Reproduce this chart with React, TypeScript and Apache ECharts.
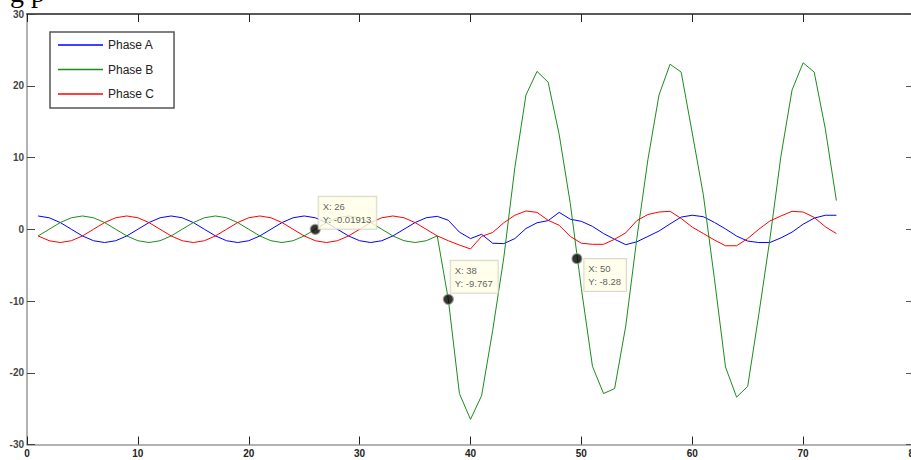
import React, { useEffect, useRef } from "react";
import * as echarts from "echarts";

// ---- data ----
const seriesNames = ["Phase A", "Phase B", "Phase C"];

// samples at x = 1 .. 73
const phaseA = [
  1.85, 1.6, 0.93, 0.0, -0.93, -1.6, -1.85, -1.6, -0.93, 0.0, 0.93, 1.6,
  1.85, 1.6, 0.93, 0.0, -0.93, -1.6, -1.85, -1.6, -0.93, 0.0, 0.93, 1.6,
  1.85, 1.6, 0.93, 0.0, -0.93, -1.6, -1.85, -1.6, -0.93, 0.0, 0.93, 1.6,
  1.8, 1.25, -0.4, -1.3, -0.7, -1.95, -2.0, -1.3, 0.1, 0.9, 1.2, 2.35,
  1.4, 1.1, 0.4, -0.6, -1.4, -2.15, -1.75, -1.0, -0.25, 0.75, 1.7, 1.95,
  1.75, 0.95, 0.05, -0.95, -1.65, -1.85, -1.85, -1.2, -0.4, 0.7, 1.55, 1.95,
  1.95,
];

const phaseB = [
  -0.93, 0.0, 0.93, 1.6, 1.85, 1.6, 0.93, 0.0, -0.93, -1.6, -1.85, -1.6,
  -0.93, 0.0, 0.93, 1.6, 1.85, 1.6, 0.93, 0.0, -0.93, -1.6, -1.85, -1.6,
  -0.93, -0.01913, 0.93, 1.6, 1.85, 1.6, 0.93, 0.0, -0.93, -1.6, -1.85, -1.6,
  -0.93, -9.767, -22.9, -26.5, -23.2, -14.1, -4.0, 8.6, 18.7, 22.0, 20.5, 13.2,
  3.6, -8.28, -19.1, -22.9, -22.2, -13.5, -1.3, 9.7, 18.7, 23.0, 21.9, 13.4,
  4.8, -6.9, -19.2, -23.4, -21.9, -11.9, -1.4, 10.2, 19.4, 23.2, 21.9, 14.0,
  4.0,
];

const phaseC = [
  -0.93, -1.6, -1.85, -1.6, -0.93, 0.0, 0.93, 1.6, 1.85, 1.6, 0.93, 0.0,
  -0.93, -1.6, -1.85, -1.6, -0.93, 0.0, 0.93, 1.6, 1.85, 1.6, 0.93, 0.0,
  -0.93, -1.6, -1.85, -1.6, -0.93, 0.0, 0.93, 1.6, 1.85, 1.6, 0.93, 0.0,
  -0.93, -1.6, -2.2, -2.75, -1.0, -0.45, 0.9, 1.95, 2.55, 2.35, 1.25, 0.55,
  -1.0, -1.95, -2.1, -2.1, -1.4, -0.5, 1.2, 2.05, 2.4, 2.5, 1.5, 0.3,
  -0.6, -1.5, -2.3, -2.3, -1.3, 0.0, 1.15, 1.85, 2.5, 2.4, 1.65, 0.35,
  -0.6,
];

// data tips (cursor positions as drawn, and their texts)
const tipX = [26, 38, 49.6];
const tipY = [-0.01913, -9.767, -4.1];
const tipText = ["X: 26\nY: -0.01913", "X: 38\nY: -9.767", "X: 50\nY: -8.28"];

// axes
const xMin = 0;
const xMax = 80;
const xStep = 10;
const yMin = -30;
const yMax = 30;
const yStep = 10;

const colors = ["#0000ff", "#1c8c1c", "#ff0000"];
const FONT = "Liberation Sans, Arial, sans-serif";

export default function App() {
  const ref = useRef<HTMLDivElement>(null);

  useEffect(() => {
    if (!ref.current) return;
    const chart = echarts.init(ref.current, undefined, { renderer: "svg" });

    const toXY = (arr: number[]) => arr.map((v, i) => [i + 1, v]);
    const tipLabelPos = [
      [9, -27],
      [8, -33],
      [13, 6],
    ];

    const axisCommon = {
      type: "value" as const,
      splitLine: { show: false },
      axisTick: { inside: true, length: 8, lineStyle: { color: "#222", width: 1 } },
    };

    chart.setOption({
      animation: false,
      backgroundColor: "#ffffff",
      graphic: [
        {
          type: "text",
          left: 10,
          top: -22,
          style: { text: "g p", font: "28px Liberation Serif, serif", fill: "#000" },
        },
      ],
      legend: {
        orient: "vertical",
        left: 50,
        top: 32,
        data: seriesNames,
        icon: "rect",
        itemWidth: 45,
        itemHeight: 1.3,
        itemGap: 11.5,
        padding: [6.5, 20, 7.5, 8],
        borderColor: "#555",
        borderWidth: 1.5,
        backgroundColor: "#ffffff",
        textStyle: { fontSize: 12, lineHeight: 13, color: "#222", fontFamily: FONT },
      },
      grid: { left: 27, top: 14, width: 887, height: 430.5, containLabel: false, outerBoundsMode: "none" },
      xAxis: [
        {
          ...axisCommon,
          min: xMin,
          max: xMax,
          interval: xStep,
          position: "bottom",
          axisLine: { onZero: false, lineStyle: { color: "#999", width: 1.5 } },
          axisLabel: { fontSize: 10, color: "#222", margin: 4, fontFamily: FONT, fontWeight: "bold" },
        },
        {
          ...axisCommon,
          min: xMin,
          max: xMax,
          interval: xStep,
          position: "top",
          axisLine: { onZero: false, lineStyle: { color: "#222", width: 1.5 } },
          axisLabel: { show: false },
        },
      ],
      yAxis: [
        {
          ...axisCommon,
          min: yMin,
          max: yMax,
          interval: yStep,
          position: "left",
          axisLine: { show: true, onZero: false, lineStyle: { color: "#999", width: 1.5 } },
          axisTick: { inside: true, length: 8, lineStyle: { color: "#444", width: 1 } },
          axisLabel: { fontSize: 10, color: "#444", margin: 3, fontFamily: FONT, fontWeight: "bold" },
        },
        {
          ...axisCommon,
          min: yMin,
          max: yMax,
          interval: yStep,
          position: "right",
          axisLine: { show: true, onZero: false, lineStyle: { color: "#222", width: 1.5 } },
          axisTick: { inside: true, length: 8, lineStyle: { color: "#555", width: 1 } },
          axisLabel: { show: false },
        },
      ],
      series: [
        {
          name: seriesNames[0],
          type: "line",
          data: toXY(phaseA),
          symbol: "none",
          lineStyle: { color: colors[0], width: 1 },
          itemStyle: { color: colors[0] },
          z: 2,
        },
        {
          name: seriesNames[1],
          type: "line",
          data: toXY(phaseB),
          symbol: "none",
          lineStyle: { color: colors[1], width: 1 },
          itemStyle: { color: colors[1] },
          z: 2,
        },
        {
          name: seriesNames[2],
          type: "line",
          data: toXY(phaseC),
          symbol: "none",
          lineStyle: { color: colors[2], width: 1 },
          itemStyle: { color: colors[2] },
          z: 2,
        },
        {
          name: "tips",
          type: "scatter",
          z: 10,
          symbol: "circle",
          symbolSize: 10,
          itemStyle: { color: "#000", borderColor: "#9a9a8a", borderWidth: 1.2 },
          data: tipX.map((x, i) => ({
            value: [x, tipY[i]],
            label: {
              show: true,
              position: tipLabelPos[i],
              formatter: tipText[i],
              fontSize: 9.5,
              lineHeight: 13,
              color: "#333",
              fontFamily: FONT,
              backgroundColor: "#ffffe6",
              borderColor: "#cfcfbf",
              borderWidth: 1,
              padding: [3, 5, 3, 4],
            },
          })),
        },
      ],
    });

    return () => chart.dispose();
  }, []);

  return (
    <div
      ref={ref}
      style={{ position: "absolute", left: 0, top: 0, width: 911, height: 460 }}
    />
  );
}
